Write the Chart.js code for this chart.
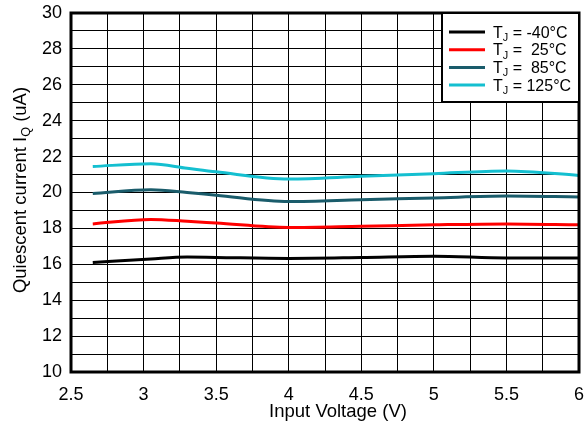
<!DOCTYPE html>
<html>
<head>
<meta charset="utf-8">
<script src="https://cdn.jsdelivr.net/npm/chart.js@4"></script>
<style>
  html, body { margin: 0; padding: 0; background: #fff; }
  canvas { display: block; }
</style>
</head>
<body>
<canvas id="iq-chart" width="585" height="426"></canvas>
<script>
// input voltage (V) sample points
const voltage = [2.65, 3.05, 3.3, 3.5, 4.0, 4.5, 5.0, 5.5, 6.0];

// quiescent current (uA) for each junction temperature
const iqMinus40 = [16.1, 16.3, 16.4, 16.38, 16.33, 16.38, 16.45, 16.35, 16.35];
const iq25      = [18.25, 18.5, 18.4, 18.3, 18.05, 18.12, 18.2, 18.25, 18.2];
const iq85      = [19.95, 20.15, 20.0, 19.85, 19.5, 19.6, 19.7, 19.8, 19.75];
const iq125     = [21.45, 21.6, 21.35, 21.15, 20.75, 20.9, 21.05, 21.2, 20.95];

const seriesLabels = ['-40°C', ' 25°C', ' 85°C', '125°C'];
const seriesColors = ['#000000', '#ff0000', '#1a5c6b', '#14bfd0'];

const FONT = "'Liberation Sans', Arial, sans-serif";

function toPoints(ys) {
    return voltage.map((v, i) => ({ x: v, y: ys[i] }));
}

// draws text where some parts are subscripts, returns width
function drawParts(ctx, parts, x, y, size, measureOnly) {
    let cx = x;
    parts.forEach(([txt, sub]) => {
        const fs = sub ? size * 0.68 : size;
        ctx.font = fs + 'px ' + FONT;
        if (!measureOnly) ctx.fillText(txt, cx, sub ? y + size * 0.22 : y);
        cx += ctx.measureText(txt).width;
    });
    return cx - x;
}

const extrasPlugin = {
    id: 'extras',
    afterDraw(chart) {
        const ctx = chart.ctx;
        const a = chart.chartArea;
        ctx.save();

        // plot frame
        ctx.strokeStyle = '#000';
        ctx.lineWidth = 3;
        ctx.strokeRect(a.left, a.top, a.right - a.left, a.bottom - a.top);

        // legend box
        const lx = 442, ly = 13, lw = a.right - lx, lh = 89;
        ctx.fillStyle = '#fff';
        ctx.fillRect(lx, ly, lw, lh);
        ctx.lineWidth = 2;
        ctx.strokeRect(lx, ly, lw, lh);
        ctx.textBaseline = 'alphabetic';
        ctx.textAlign = 'left';
        seriesLabels.forEach((lab, i) => {
            const cy = 32 + i * 17.7;
            ctx.strokeStyle = seriesColors[i];
            ctx.lineWidth = 3;
            ctx.beginPath();
            ctx.moveTo(449, cy);
            ctx.lineTo(485, cy);
            ctx.stroke();
            ctx.fillStyle = '#000';
            drawParts(ctx, [['T', false], ['J', true], [' = ' + lab, false]], 493, cy + 5.5, 16);
        });

        // axis titles
        ctx.fillStyle = '#000';
        ctx.font = '18.5px ' + FONT;
        ctx.textAlign = 'center';
        ctx.fillText('Input Voltage (V)', 338, 417);

        const yParts = [['Quiescent current I', false], ['Q', true], [' (uA)', false]];
        ctx.textAlign = 'left';
        const w = drawParts(ctx, yParts, 0, 0, 18.5, true);
        ctx.translate(26, 190);
        ctx.rotate(-Math.PI / 2);
        drawParts(ctx, yParts, -w / 2, 0, 18.5);

        ctx.restore();
    }
};

const isMultiple = (v, step) => Math.abs(v / step - Math.round(v / step)) < 1e-6;

new Chart(document.getElementById('iq-chart').getContext('2d'), {
    type: 'line',
    data: {
        datasets: [iqMinus40, iq25, iq85, iq125].map((ys, i) => ({
            label: 'TJ = ' + seriesLabels[i],
            data: toPoints(ys),
            borderColor: seriesColors[i],
            backgroundColor: seriesColors[i],
            borderWidth: 3,
            pointRadius: 0,
            cubicInterpolationMode: 'monotone',
            fill: false
        }))
    },
    options: {
        responsive: false,
        animation: false,
        devicePixelRatio: 1,
        layout: { padding: { top: 13, right: 6, left: 0, bottom: 0 } },
        plugins: {
            legend: { display: false },
            tooltip: { enabled: false }
        },
        scales: {
            x: {
                type: 'linear',
                min: 2.5,
                max: 6,
                afterFit: s => {
                    s.height = 54;
                    s.paddingLeft = 0;
                    s.paddingRight = 0;
                },
                border: { display: false },
                grid: { color: '#000', lineWidth: 1, drawTicks: false },
                ticks: {
                    stepSize: 0.25,
                    autoSkip: false,
                    maxRotation: 0,
                    padding: 12,
                    color: '#000',
                    font: { family: FONT, size: 18 },
                    callback: v => isMultiple(v, 0.5) ? String(+v.toFixed(2)) : ''
                }
            },
            y: {
                min: 10,
                max: 30,
                afterFit: s => {
                    s.width = 71;
                    s.paddingTop = 0;
                    s.paddingBottom = 0;
                },
                border: { display: false },
                grid: { color: '#000', lineWidth: 1, drawTicks: false },
                ticks: {
                    stepSize: 1,
                    autoSkip: false,
                    padding: 9,
                    color: '#000',
                    font: { family: FONT, size: 18 },
                    callback: v => isMultiple(v, 2) ? String(v) : ''
                }
            }
        }
    },
    plugins: [extrasPlugin]
});
</script>
</body>
</html>
